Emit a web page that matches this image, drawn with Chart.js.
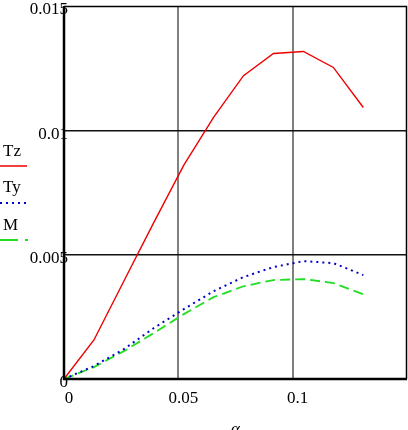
<!DOCTYPE html>
<html>
<head>
<meta charset="utf-8">
<script src="https://cdn.jsdelivr.net/npm/chart.js@4"></script>
<style>
  html, body { margin: 0; padding: 0; background: #fff; overflow: hidden; }
  canvas { display: block; }
</style>
</head>
<body>
<canvas id="grafico" width="408" height="440"></canvas>
<script>
// alpha (rad), steps of 0.75 deg
const alpha = [0, 0.0131, 0.0262, 0.0393, 0.0524, 0.0654, 0.0785, 0.0916, 0.1047, 0.1178, 0.1309];
const Tz = [0, 0.00157, 0.00394, 0.0063, 0.0086, 0.01052, 0.0122, 0.01309, 0.01317, 0.01253, 0.01092];
const Ty = [0, 0.00052, 0.0012, 0.00205, 0.00281, 0.00353, 0.0041, 0.0045, 0.00474, 0.00466, 0.00418];
const M  = [0, 0.00048, 0.00112, 0.00185, 0.00261, 0.00329, 0.00373, 0.00398, 0.00402, 0.00386, 0.00341];

const xTicks = [0, 0.05, 0.1];
const yTicks = [0, 0.005, 0.01, 0.015];
const legendNames = ['Tz', 'Ty', 'M'];

const serif = "'Liberation Serif', 'DejaVu Serif', serif";

function pontos(serie) {
    return alpha.map((a, i) => ({ x: a, y: serie[i] }));
}

// frame + left legend
const moldura = {
    id: 'moldura',
    afterDatasetsDraw(chart) {
        const { ctx, chartArea: a } = chart;
        ctx.save();
        ctx.strokeStyle = '#000';
        ctx.setLineDash([]);
        ctx.lineWidth = 1.5;
        ctx.beginPath();
        ctx.moveTo(a.left, a.top + 0.5);
        ctx.lineTo(a.right - 0.5, a.top + 0.5);
        ctx.lineTo(a.right - 0.5, a.bottom);
        ctx.stroke();
        ctx.lineWidth = 2.5;
        ctx.beginPath();
        ctx.moveTo(a.left, a.top);
        ctx.lineTo(a.left, a.bottom);
        ctx.lineTo(a.right, a.bottom);
        ctx.stroke();

        // legend
        const itens = [
            { y: 152, ly: 166, cor: '#ee0000', dash: [], w: 1.5, len: 27 },
            { y: 188, ly: 203, cor: '#0000c8', dash: [2, 4], w: 2, len: 27 },
            { y: 226, ly: 240, cor: '#22dd22', dash: [18, 7], w: 2, len: 28 }
        ];
        ctx.font = '17px ' + serif;
        ctx.textBaseline = 'middle';
        ctx.textAlign = 'left';
        itens.forEach((it, i) => {
            ctx.fillStyle = '#000';
            ctx.fillText(legendNames[i], 3, it.y);
            ctx.strokeStyle = it.cor;
            ctx.lineWidth = it.w;
            ctx.setLineDash(it.dash);
            ctx.beginPath();
            ctx.moveTo(0, it.ly);
            ctx.lineTo(it.len, it.ly);
            ctx.stroke();
        });
        ctx.restore();
    }
};

new Chart(document.getElementById('grafico'), {
    type: 'line',
    data: {
        datasets: [
            { label: 'Tz', data: pontos(Tz), borderColor: '#ee0000', borderWidth: 1.4, pointRadius: 0, tension: 0 },
            { label: 'Ty', data: pontos(Ty), borderColor: '#0000c8', borderWidth: 2, borderDash: [2, 4], pointRadius: 0, tension: 0 },
            { label: 'M', data: pontos(M), borderColor: '#22dd22', borderWidth: 1.8, borderDash: [10, 5], pointRadius: 0, tension: 0 }
        ]
    },
    options: {
        responsive: false,
        animation: false,
        devicePixelRatio: 1,
        layout: { padding: { left: 0, right: 1, top: 6, bottom: 0 } },
        plugins: { legend: { display: false }, tooltip: { enabled: false } },
        scales: {
            x: {
                type: 'linear',
                min: 0,
                max: 0.15,
                afterBuildTicks: s => { s.ticks = xTicks.map(v => ({ value: v })); },
                afterFit: s => { s.height = 61; s.paddingLeft = 0; s.paddingRight = 0; },
                border: { display: false },
                grid: { color: c => (c.index === 0 ? 'rgba(0,0,0,0)' : '#808080'), lineWidth: 2, drawTicks: false },
                ticks: { color: '#000', font: { family: serif, size: 17 }, padding: 9, labelOffset: 5, maxRotation: 0,
                    callback: v => String(v) },
                title: { display: true, text: 'α', color: '#000', font: { family: serif, size: 17, style: 'italic' }, padding: 0 }
            },
            y: {
                min: 0,
                max: 0.015,
                afterBuildTicks: s => { s.ticks = yTicks.map(v => ({ value: v })); },
                afterFit: s => {
                    s.width = 64; s.paddingTop = 0; s.paddingBottom = 0;
                    s._computeLabelArea = () => undefined; // labels overlap the axis line like the original
                },
                border: { display: false },
                grid: { color: c => (c.index === 0 || c.index === yTicks.length - 1 ? 'rgba(0,0,0,0)' : '#111'), lineWidth: 1.4, drawTicks: false },
                ticks: { color: '#000', font: { family: serif, size: 17 }, padding: -4, labelOffset: 4,
                    callback: v => String(v) }
            }
        }
    },
    plugins: [moldura]
});
</script>
</body>
</html>
